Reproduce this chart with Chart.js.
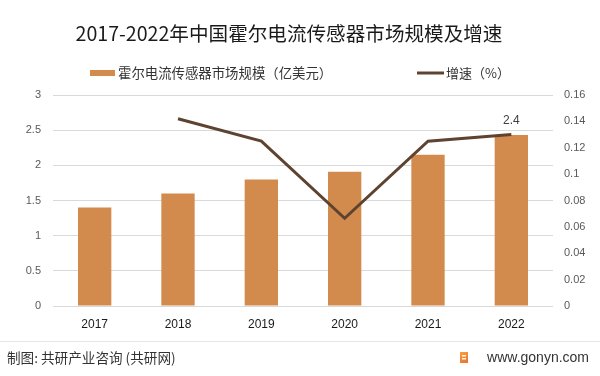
<!DOCTYPE html>
<html>
<head>
<meta charset="utf-8">
<script src="https://cdn.jsdelivr.net/npm/chart.js@4/dist/chart.umd.min.js"></script>
<style>
html,body{margin:0;padding:0;background:#fff;}
#wrap{width:600px;height:376px;position:relative;}
</style>
</head>
<body>
<div id="wrap"><canvas id="c" width="600" height="376"></canvas></div>
<script>
const categories = ['2017', '2018', '2019', '2020', '2021', '2022'];
const marketSize = [1.4, 1.6, 1.8, 1.91, 2.15, 2.43];
const growthRate = [null, 0.142, 0.125, 0.0665, 0.125, 0.13];
const leftTicks = ['0', '0.5', '1', '1.5', '2', '2.5', '3'];
const rightTicks = ['0', '0.02', '0.04', '0.06', '0.08', '0.1', '0.12', '0.14', '0.16'];
const seriesNames = ['霍尔电流传感器市场规模（亿美元）', '增速（%）'];
const titleText = '2017-2022年中国霍尔电流传感器市场规模及增速';
const footerLeft = '制图: 共研产业咨询 (共研网)';
const footerRight = 'www.gonyn.com';

const BAR_COLOR = '#D38B4D';
const LINE_COLOR = '#5E4430';
const CJK = '"Noto Sans CJK SC", "Noto Sans", sans-serif';

const decor = {
  id: 'decor',
  beforeDraw(chart) {
    const ctx = chart.ctx;
    ctx.save();
    ctx.fillStyle = '#fff';
    ctx.fillRect(0, 0, chart.width, chart.height);
    ctx.restore();
  },
  afterDraw(chart) {
    const ctx = chart.ctx;
    ctx.save();
    // title
    ctx.fillStyle = '#1a1a1a';
    ctx.font = '19.6px ' + CJK;
    ctx.textAlign = 'center';
    ctx.textBaseline = 'middle';
    ctx.fillText(titleText, 289, 34);

    // legend
    ctx.font = '13.4px ' + CJK;
    ctx.textAlign = 'left';
    ctx.fillStyle = BAR_COLOR;
    ctx.fillRect(90, 70, 25, 6);
    ctx.fillStyle = '#333';
    ctx.fillText(chart.data.datasets[0].label, 118, 73);
    ctx.strokeStyle = LINE_COLOR;
    ctx.lineWidth = 3;
    ctx.beginPath();
    ctx.moveTo(417, 73);
    ctx.lineTo(444, 73);
    ctx.stroke();
    ctx.fillStyle = '#333';
    ctx.font = '13px ' + CJK;
    ctx.fillText(chart.data.datasets[1].label, 446, 73);

    // data label on last bar
    const meta = chart.getDatasetMeta(0);
    const last = meta.data.length - 1;
    const el = meta.data[last];
    ctx.font = '12px "Liberation Sans", sans-serif';
    ctx.fillStyle = '#404040';
    ctx.textAlign = 'center';
    ctx.fillText(marketSize[last].toFixed(1), el.x, el.y - 14);

    // footer separator
    ctx.strokeStyle = '#e6e6e6';
    ctx.lineWidth = 1;
    ctx.beginPath();
    ctx.moveTo(0, 341.5);
    ctx.lineTo(600, 341.5);
    ctx.stroke();

    // footer text
    ctx.fillStyle = '#333';
    ctx.font = '13.6px ' + CJK;
    ctx.textAlign = 'left';
    ctx.fillText(footerLeft, 7, 358);
    ctx.font = '14px "Liberation Sans", sans-serif';
    ctx.textAlign = 'right';
    ctx.fillText(footerRight, 589, 358);

    // logo
    const g = ctx.createLinearGradient(460, 352, 468, 364);
    g.addColorStop(0, '#F7A23B');
    g.addColorStop(1, '#EE6A2A');
    ctx.fillStyle = g;
    ctx.fillRect(460, 352, 8, 11);
    ctx.fillStyle = '#fff';
    ctx.fillRect(462, 355, 4, 1.5);
    ctx.fillRect(462, 358, 4, 1.5);
    ctx.restore();
  }
};

new Chart(document.getElementById('c'), {
  data: {
    labels: categories,
    datasets: [
      {
        type: 'bar',
        label: seriesNames[0],
        data: marketSize,
        backgroundColor: BAR_COLOR,
        yAxisID: 'y',
        categoryPercentage: 1,
        barPercentage: 0.4,
        order: 1
      },
      {
        type: 'line',
        label: seriesNames[1],
        data: growthRate,
        borderColor: LINE_COLOR,
        borderWidth: 3,
        pointRadius: 0,
        tension: 0,
        fill: false,
        yAxisID: 'y1',
        order: 0
      }
    ]
  },
  options: {
    responsive: false,
    animation: false,
    events: [],
    layout: { padding: { top: 95, left: 0, right: 0, bottom: 0 } },
    plugins: {
      legend: { display: false },
      title: { display: false },
      tooltip: { enabled: false }
    },
    scales: {
      x: {
        grid: { display: false, drawTicks: false },
        border: { display: false },
        ticks: {
          padding: 11,
          color: '#1a1a1a',
          font: { family: '"Liberation Sans", sans-serif', size: 12 }
        },
        afterFit(s) { s.height = 70; }
      },
      y: {
        position: 'left',
        min: 0,
        max: 3,
        grid: { color: '#d9d9d9', drawTicks: false },
        border: { display: false },
        ticks: {
          stepSize: 0.5,
          padding: 12,
          color: '#595959',
          font: { family: '"Liberation Sans", sans-serif', size: 11 },
          callback: (v, i) => leftTicks[i]
        },
        afterFit(s) { s.width = 53; }
      },
      y1: {
        position: 'right',
        min: 0,
        max: 0.16,
        grid: { drawOnChartArea: false, drawTicks: false },
        border: { display: false },
        ticks: {
          stepSize: 0.02,
          padding: 11,
          color: '#595959',
          font: { family: '"Liberation Sans", sans-serif', size: 11 },
          callback: (v, i) => rightTicks[i]
        },
        afterFit(s) { s.width = 47; }
      }
    }
  },
  plugins: [decor]
});
</script>
</body>
</html>
